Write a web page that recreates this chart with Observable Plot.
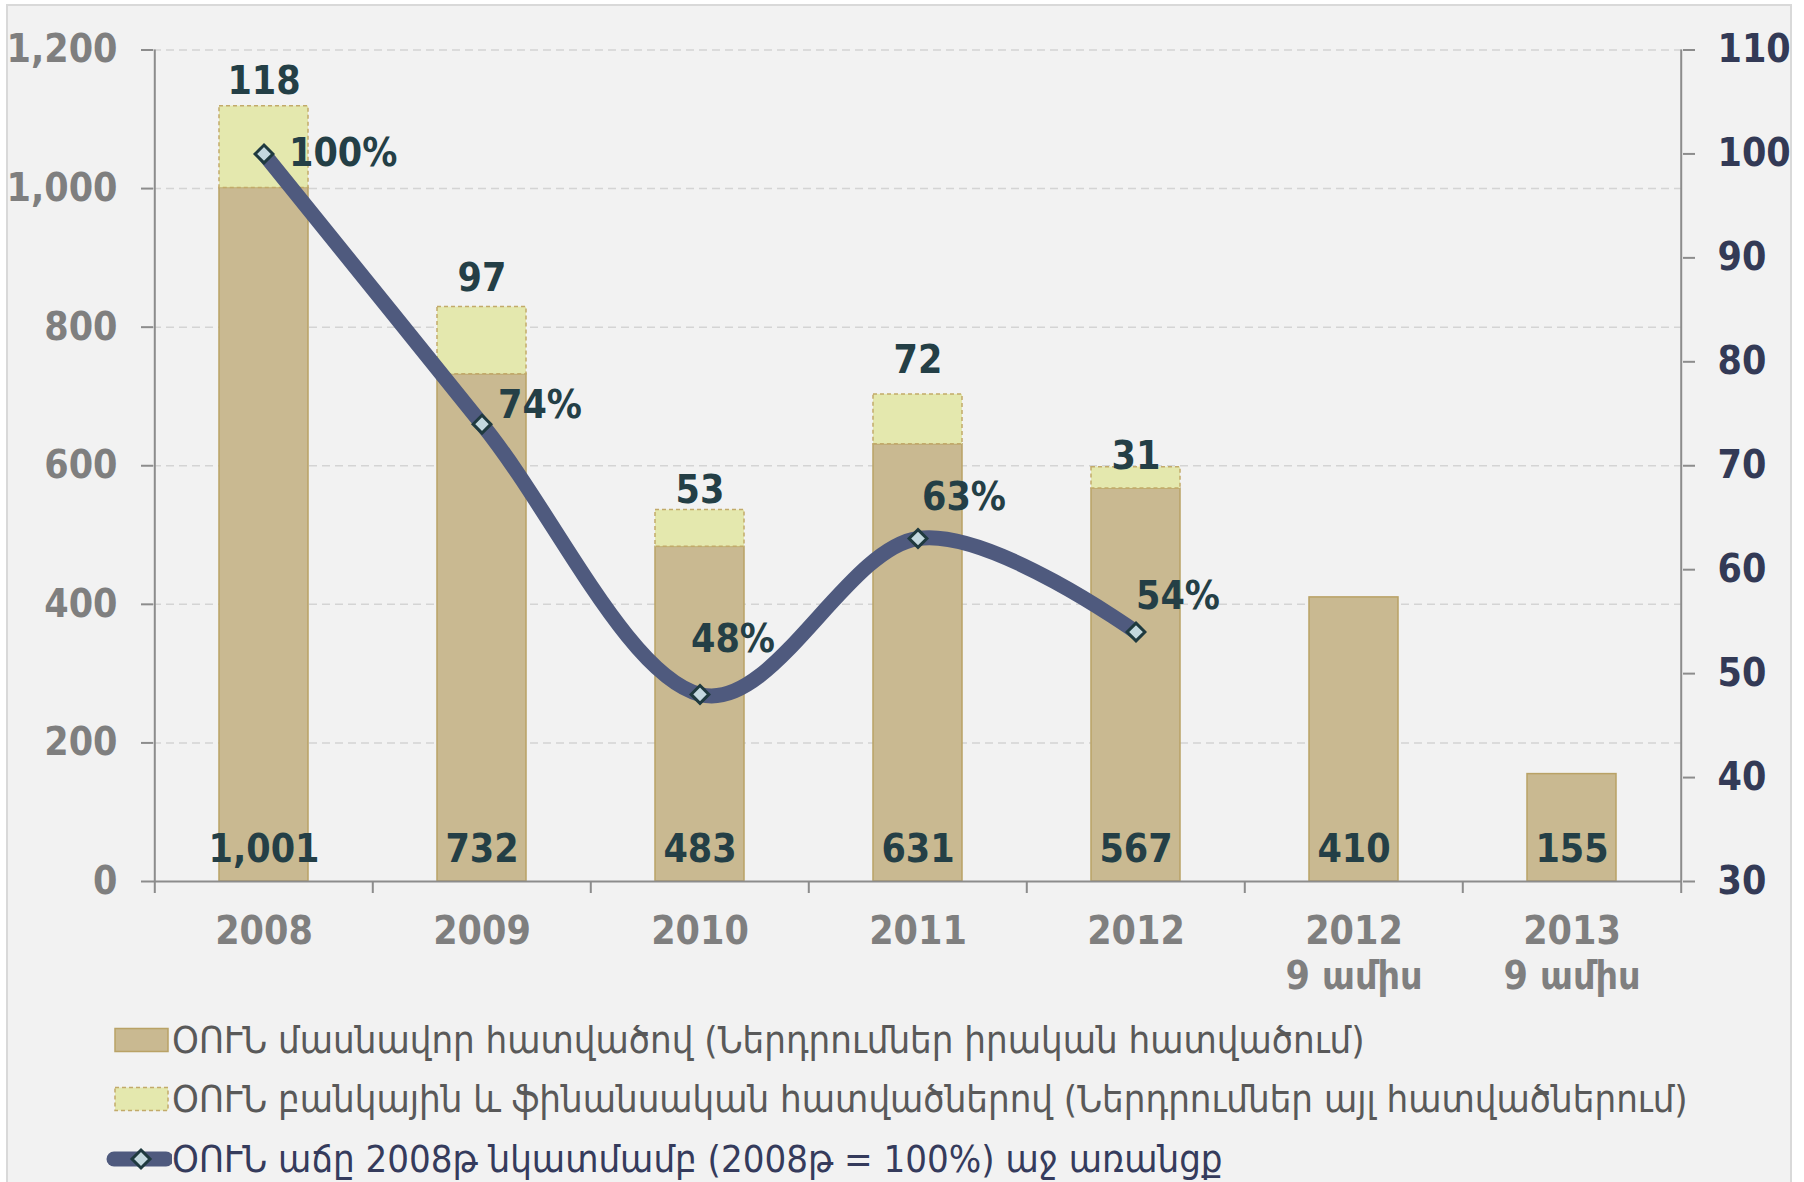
<!DOCTYPE html>
<html>
<head>
<meta charset="utf-8">
<script src="https://cdn.jsdelivr.net/npm/d3@7"></script>
<script src="https://cdn.jsdelivr.net/npm/@observablehq/plot@0.6"></script>
<style>
  html, body { margin: 0; padding: 0; background: #ffffff; }
  #wrap { position: relative; width: 1804px; height: 1182px; overflow: hidden; }
  #frame { position: absolute; left: 6px; top: 4px; width: 1786px; height: 1200px;
           background: #f2f2f2; border: 2px solid #d9d9d9; box-sizing: border-box; }
  #chart { position: absolute; left: 0; top: 0; }
  .leg { position: absolute; left: 0; height: 40px; display: flex; align-items: center;
         font-family: "DejaVu Sans Condensed", "DejaVu Sans", sans-serif; font-stretch: condensed;
         font-size: 38px; white-space: nowrap; }
  .leg svg { flex: none; }
</style>
</head>
<body>
<div id="wrap">
  <div id="frame"></div>
  <div id="chart"></div>
  <div id="legend"></div>
</div>
<script>
// ---------- data ----------
const categories = ["2008", "2009", "2010", "2011", "2012", "2012\n9 ամիս", "2013\n9 ամիս"];
const privateSector = [1001, 732, 483, 631, 567, 410, 155];
const bankFinance = [118, 97, 53, 72, 31, null, null];
const growthPct = [100, 74, 48, 63, 54];
const leftTicks = [0, 200, 400, 600, 800, 1000, 1200];
const rightTicks = [30, 40, 50, 60, 70, 80, 90, 100, 110];
const legendLabels = [
  "ՕՈՒՆ մասնավոր հատվածով (Ներդրումներ իրական հատվածում)",
  "ՕՈՒՆ բանկային և ֆինանսական հատվածներով (Ներդրումներ այլ հատվածներում)",
  "ՕՈՒՆ աճը 2008թ նկատմամբ (2008թ = 100%) աջ առանցք"
];

// ---------- layout (not data) ----------
const W = 1804, H = 1005, ML = 153, MR = 122, MT = 49.5, MB = H - 881;
const step = (W - ML - MR) / categories.length;
const leftDomain = [0, 1200], rightDomain = [30, 110];
const toLeft = v => (v - rightDomain[0]) / (rightDomain[1] - rightDomain[0]) * (leftDomain[1] - leftDomain[0]);
const pxToUnits = px => px * (leftDomain[1] - leftDomain[0]) / (H - MB - MT);
const pctNudge = [[25, 0], [16, -19], [-9, -55], [4, -41], [0, -36]];
const topNudge = [-25, -29, -20, -34, -11];

const FONT = "'DejaVu Sans Condensed', 'DejaVu Sans', sans-serif";
const labelColor = "#243f46";
const axisGray = "#8c8c8c";

const rows = categories.map((cat, i) => ({cat, base: privateSector[i], top: bankFinance[i]}));
const lineRows = growthPct.map((v, i) => ({cat: categories[i], v}));

const marks = [
  Plot.gridY({ticks: leftTicks.filter(d => d > 0), stroke: "#d4d4d4", strokeOpacity: 1, strokeWidth: 1.5, strokeDasharray: "8,5"}),
  Plot.barY(rows, {x: "cat", y1: 0, y2: "base", fill: "#c9b991", stroke: "#b9a266", strokeWidth: 1.5}),
  Plot.barY(rows.filter(d => d.top), {x: "cat", y1: "base", y2: d => d.base + d.top, fill: "#e4e8ae", stroke: "#c2aa6a", strokeWidth: 1.5, strokeDasharray: "4,3"}),
  Plot.ruleY([0], {stroke: axisGray, strokeWidth: 2}),
  Plot.ruleX([categories[0]], {x: d => d, y1: leftDomain[0], y2: leftDomain[1], dx: -step / 2, stroke: axisGray, strokeWidth: 2}),
  Plot.ruleX([categories[categories.length - 1]], {x: d => d, y1: leftDomain[0], y2: leftDomain[1], dx: step / 2, stroke: axisGray, strokeWidth: 2}),
  Plot.ruleX(categories, {x: d => d, y1: 0, y2: -pxToUnits(12), dx: -step / 2, stroke: axisGray, strokeWidth: 2}),
  Plot.ruleX([categories[categories.length - 1]], {x: d => d, y1: 0, y2: -pxToUnits(12), dx: step / 2, stroke: axisGray, strokeWidth: 2}),
  Plot.axisY({anchor: "left", ticks: leftTicks, tickSize: 12, tickPadding: 24, tickFormat: d3.format(","), label: null,
              fontSize: 39, fontWeight: "bold", fill: "#7f7f7f", stroke: axisGray, strokeWidth: 2}),
  Plot.axisY({anchor: "right", ticks: rightTicks.map(toLeft), tickSize: 12, tickPadding: 23, tickFormat: d => Math.round(d / toLeft(rightDomain[0] + 1) + rightDomain[0]), label: null,
              fontSize: 39, fontWeight: "bold", fill: "#333a56", stroke: axisGray, strokeWidth: 2}),
  Plot.axisX({tickSize: 0, tickPadding: 30, label: null, fontSize: 39, fontWeight: "bold", fill: "#7f7f7f", lineHeight: 1.16}),
  Plot.text(rows, {x: "cat", y: 0, text: d => d3.format(",")(d.base), dy: -32, fontSize: 39, fontWeight: "bold", fill: labelColor}),
  ...rows.filter(d => d.top).map((d, i) =>
    Plot.text([d], {x: "cat", y: e => e.base + e.top, text: e => String(e.top), dy: topNudge[i], fontSize: 39, fontWeight: "bold", fill: labelColor})),
  Plot.line(lineRows, {x: "cat", y: d => toLeft(d.v), curve: "cardinal", stroke: "#4f5a7e", strokeWidth: 15, strokeLinecap: "round", strokeLinejoin: "round"}),
  Plot.dot(lineRows, {x: "cat", y: d => toLeft(d.v), symbol: "diamond2", r: 8, fill: "#c3d8de", stroke: "#1f3a3f", strokeWidth: 3}),
  ...lineRows.map((d, i) =>
    Plot.text([d], {x: "cat", y: e => toLeft(e.v), text: e => e.v + "%", textAnchor: "start", dx: pctNudge[i][0], dy: pctNudge[i][1], fontSize: 39, fontWeight: "bold", fill: labelColor}))
];

const chart = Plot.plot({
  width: W, height: H,
  marginLeft: ML, marginRight: MR, marginTop: MT, marginBottom: MB,
  style: {fontFamily: FONT, fontStretch: "condensed", background: "transparent", overflow: "visible"},
  x: {type: "band", domain: categories, paddingInner: 0.594, paddingOuter: 0.297},
  y: {domain: leftDomain},
  marks
});
document.getElementById("chart").appendChild(chart);

// ---------- legend ----------
const legend = document.getElementById("legend");
const legendCenters = [1040, 1099, 1159];
const swatches = [
  `<svg width="172" height="40"><rect x="115" y="8.5" width="53" height="23" fill="#c9b991" stroke="#b9a266" stroke-width="1.5"/></svg>`,
  `<svg width="172" height="40"><rect x="115" y="8.5" width="53" height="23" fill="#e4e8ae" stroke="#c2aa6a" stroke-width="1.5" stroke-dasharray="4,3"/></svg>`,
  `<svg width="172" height="40"><line x1="114" y1="20" x2="166" y2="20" stroke="#4f5a7e" stroke-width="15" stroke-linecap="round"/><path d="M141,11 L150,20 L141,29 L132,20 Z" fill="#c3d8de" stroke="#1f3a3f" stroke-width="3"/></svg>`
];
const legendColors = ["#595959", "#595959", "#353b5c"];
legendLabels.forEach((t, i) => {
  const row = document.createElement("div");
  row.className = "leg";
  row.style.top = (legendCenters[i] - 20) + "px";
  row.style.color = legendColors[i];
  row.innerHTML = swatches[i] + `<span>${t}</span>`;
  legend.appendChild(row);
});
</script>
</body>
</html>
